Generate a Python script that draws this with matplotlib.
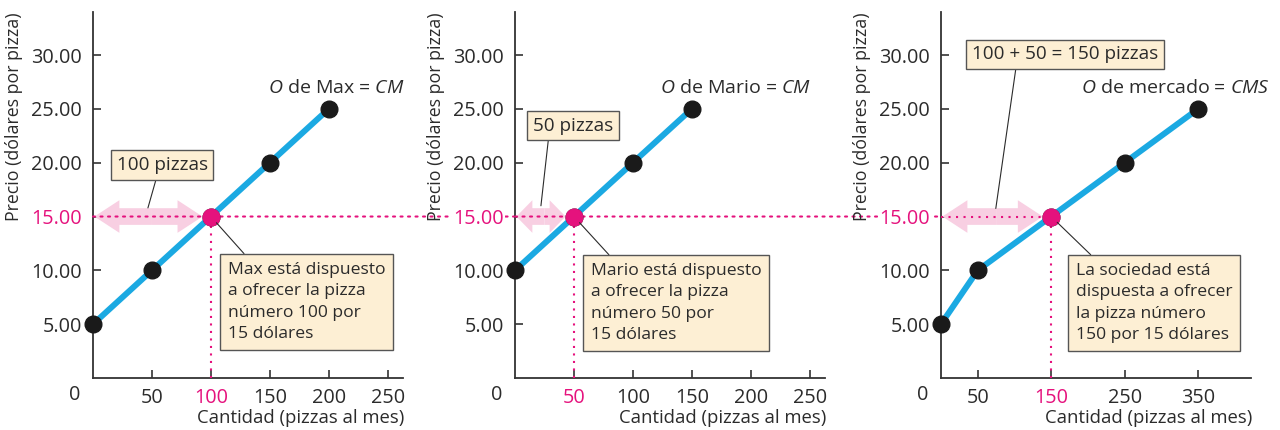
import matplotlib
matplotlib.use("Agg")
import matplotlib.pyplot as plt
from matplotlib.patches import ConnectionPatch, FancyArrowPatch, ArrowStyle

plt.rcParams['font.family'] = ['Open Sans', 'DejaVu Sans']
plt.rcParams['mathtext.fontset'] = 'custom'
plt.rcParams['mathtext.it'] = 'Open Sans:italic'
plt.rcParams['mathtext.rm'] = 'Open Sans'

# ---------------- data ----------------
max_qty = [0, 50, 100, 150, 200]
max_price = [5, 10, 15, 20, 25]
mario_qty = [0, 50, 100, 150]
mario_price = [10, 15, 20, 25]
market_qty = [0, 50, 150, 250, 350]
market_price = [5, 10, 15, 20, 25]

price_ticks = [5, 10, 15, 20, 25, 30]
qty_ticks_individual = [50, 100, 150, 200, 250]
qty_ticks_market = [50, 150, 250, 350]

eq_price = 15
eq_qty = [100, 50, 150]

curve_labels = [r"$\mathit{O}$ de Max = $\mathit{CM}$",
                r"$\mathit{O}$ de Mario = $\mathit{CM}$",
                r"$\mathit{O}$ de mercado = $\mathit{CMS}$"]
qty_labels = ["100 pizzas", "50 pizzas", "100 + 50 = 150 pizzas"]
callout_texts = ["Max está dispuesto\na ofrecer la pizza\nnúmero 100 por\n15 dólares",
                 "Mario está dispuesto\na ofrecer la pizza\nnúmero 50 por\n15 dólares",
                 "La sociedad está\ndispuesta a ofrecer\nla pizza número\n150 por 15 dólares"]
y_label = "Precio (dólares por pizza)"
x_label = "Cantidad (pizzas al mes)"

# ---------------- style ----------------
BLUE = "#1ba9e2"
MAGENTA = "#e5127d"
PINK = "#f8cfe2"
BOX = "#fdefd4"
DARK = "#2b2b2b"
DOTS = (0, (1, 2.6))

fig = plt.figure(figsize=(12.8, 4.3), dpi=100)
lefts = [93 / 1280, 515 / 1280, 941 / 1280]
W, H = 310 / 1280, 366 / 430
B = 52 / 430
axes = [fig.add_axes([l, B, W, H]) for l in lefts]

series = [(max_qty, max_price), (mario_qty, mario_price), (market_qty, market_price)]
xticks = [qty_ticks_individual, qty_ticks_individual, qty_ticks_market]
xlims = [263, 263, 422]
head_len = [1.8, 1.15, 1.8]
qbox_pos = [(0.223, 0.582), (0.187, 0.689), (0.40, 0.884)]
qbox_rel = [(0.45, 0.0), (0.2, 0.0), (0.24, 0.0)]
qbox_target = [(46.6, 15.8), (22.0, 16.0), (74.6, 15.75)]
callout_pos = [(0.435, 0.317), (0.245, 0.314), (0.435, 0.314)]
label_pos = [(1.006, 0.792), (0.955, 0.792), (1.061, 0.792)]

for i, ax in enumerate(axes):
    q, p = series[i]
    Q = eq_qty[i]
    ax.set_facecolor('none')
    ax.set_xlim(0, xlims[i])
    ax.set_ylim(0, 34)
    for s in ['top', 'right']:
        ax.spines[s].set_visible(False)
    for s in ['left', 'bottom']:
        ax.spines[s].set_color('#333333')
        ax.spines[s].set_linewidth(1.3)
    ax.set_xticks(xticks[i])
    ax.set_xticklabels([str(t) for t in xticks[i]])
    ax.set_yticks(price_ticks)
    ax.set_yticklabels([f"{t:.2f}" for t in price_ticks])
    ax.tick_params(axis='x', direction='in', length=6, width=1.2, color='#333333',
                   labelsize=14.3, labelcolor=DARK, pad=7)
    ax.tick_params(axis='y', direction='in', length=6, width=1.2, color='#333333',
                   labelsize=14.3, labelcolor=DARK, pad=8)
    for t, lab in zip(xticks[i], ax.get_xticklabels()):
        if t == Q:
            lab.set_color(MAGENTA)
    for t, lab in zip(price_ticks, ax.get_yticklabels()):
        if t == eq_price:
            lab.set_color(MAGENTA)
            lab.set_bbox(dict(fc='white', ec='none', pad=1))
    ax.annotate("0", xy=(0, 0), xycoords='data', xytext=(-13, -12.5),
                textcoords='offset points', ha='center', va='center',
                fontsize=14.3, color=DARK, annotation_clip=False)

    # supply curve
    ax.plot(q, p, color=BLUE, lw=4.3, zorder=3, solid_capstyle='round', clip_on=False)
    ax.plot(q, p, 'o', color='#1a1a1a', ms=12, zorder=4, clip_on=False)
    ax.plot([Q], [eq_price], 'o', color=MAGENTA, ms=12, zorder=5, clip_on=False)

    # pink double arrow
    style = ArrowStyle('Simple', head_length=head_len[i], head_width=2.35, tail_width=1.2)
    for end, shr in [(0, 1), (Q, 6)]:
        arr = FancyArrowPatch((Q / 2, eq_price), (end, eq_price), arrowstyle=style,
                              mutation_scale=10, shrinkA=0, shrinkB=shr,
                              color=PINK, lw=0, zorder=2)
        ax.add_patch(arr)

    # dotted lines
    ax.plot([Q, Q], [0, eq_price], color=MAGENTA, lw=1.5, ls=DOTS,
            dash_capstyle='butt', zorder=2.8)
    if i < 2:
        con = ConnectionPatch(xyA=(0, eq_price), coordsA=ax.transData,
                              xyB=(0, eq_price), coordsB=axes[i + 1].transData,
                              color=MAGENTA, lw=1.5, ls=DOTS, zorder=2.8)
        ax.add_artist(con)
        con.set_clip_on(False)
    else:
        ax.plot([0, Q], [eq_price, eq_price], color=MAGENTA, lw=1.5, ls=DOTS,
                dash_capstyle='butt', zorder=2.8)

    # labels
    ax.text(label_pos[i][0], label_pos[i][1], curve_labels[i], transform=ax.transAxes,
            ha='right', va='center', fontsize=14, color=DARK)
    ax.text(-0.255, 1.0, y_label, transform=ax.transAxes, rotation=90,
            ha='center', va='top', fontsize=12.8, color=DARK)
    ax.text(1.005, -0.109, x_label, transform=ax.transAxes, ha='right', va='center',
            fontsize=13.3, color=DARK)

    # quantity box
    ax.annotate(qty_labels[i], xy=qbox_target[i], xycoords='data',
                xytext=qbox_pos[i], textcoords='axes fraction',
                ha='center', va='center', fontsize=13.6, color=DARK, zorder=6,
                bbox=dict(boxstyle='square,pad=0.3', fc=BOX, ec='#555555', lw=1),
                arrowprops=dict(arrowstyle='-', color=DARK, lw=0.8, shrinkA=0, shrinkB=0,
                                relpos=qbox_rel[i]))
    # callout
    ax.annotate(callout_texts[i], xy=(Q, eq_price), xycoords='data',
                xytext=callout_pos[i], textcoords='axes fraction',
                ha='left', va='top', fontsize=12.6, color=DARK, linespacing=1.45, zorder=6,
                bbox=dict(boxstyle='square,pad=0.45', fc=BOX, ec='#555555', lw=1),
                arrowprops=dict(arrowstyle='-', color=DARK, lw=0.8, shrinkA=0, shrinkB=6,
                                relpos=(0.15, 1.0)))

fig.savefig("out.png", dpi=100)
